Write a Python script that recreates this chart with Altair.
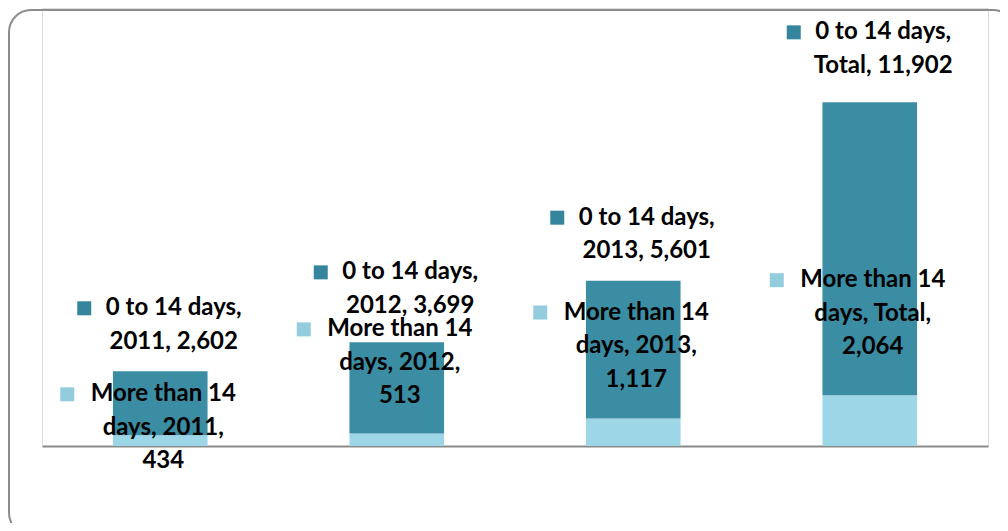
import altair as alt
import pandas as pd

# ---- data ----
categories = ["2011", "2012", "2013", "Total"]
short_stay = [2602, 3699, 5601, 11902]      # "0 to 14 days"
long_stay = [434, 513, 1117, 2064]          # "More than 14 days"
series = ["0 to 14 days", "More than 14 days"]

# ---- layout / style constants ----
DARK = "#3B8DA4"
LIGHT = "#9DD6E7"
DARK_KEY = "#35869C"
LIGHT_KEY = "#93CCDD"
W, H = 946, 438
YMAX = 17800
PPU = H / YMAX  # pixels per unit
FONT = "Lato"
FS = 24
LH = 33.5
# label nudges: first text line position (pixels) relative to the top of its segment
dark_nudge = [-63, -70, -63, -70]
light_nudge = [-41, -104, -106, -115]

rows = []
for c, s, l in zip(categories, short_stay, long_stay):
    rows.append({"cat": c, "series": series[1], "value": l, "ord": 0})
    rows.append({"cat": c, "series": series[0], "value": s, "ord": 1})
bars_df = pd.DataFrame(rows)

def fmt(v):
    return f"{v:,}"

dark_lab = pd.DataFrame({
    "cat": categories,
    "text": [f"0 to 14 days,\n{c}, {fmt(s)}" for c, s in zip(categories, short_stay)],
    "y": [s + l - n / PPU for s, l, n in zip(short_stay, long_stay, dark_nudge)],
})
light_lab = pd.DataFrame({
    "cat": categories,
    "text": [f"More than 14\ndays, {c},\n{fmt(l)}" for c, l in zip(categories, long_stay)],
    "y": [l - n / PPU for l, n in zip(long_stay, light_nudge)],
})

xenc = alt.X("cat:N", sort=categories,
             scale=alt.Scale(paddingInner=0.6, paddingOuter=0.3),
             axis=alt.Axis(title=None, labels=False, ticks=False, grid=False,
                           domainColor="#8a8a8a", domainWidth=2))
yscale = alt.Scale(domain=[0, YMAX], nice=False, zero=True)

border = alt.Chart(pd.DataFrame({"a": [0]})).mark_rect(
    cornerRadius=22, fill="white", fillOpacity=0, stroke="#8c8c8c", strokeWidth=2
).encode(x=alt.value(-33), x2=alt.value(973), y=alt.value(2), y2=alt.value(527))

bars = alt.Chart(bars_df).mark_bar().encode(
    x=xenc,
    y=alt.Y("value:Q", stack="zero", scale=yscale, axis=None),
    color=alt.Color("series:N", scale=alt.Scale(domain=series, range=[DARK, LIGHT]), legend=None),
    order=alt.Order("ord:Q"),
)

text_common = dict(font=FONT, fontWeight="bold", fontSize=FS, lineHeight=LH,
                   lineBreak="\n", align="center", baseline="middle", color="#000000")

dark_text = alt.Chart(dark_lab).mark_text(dx=13.5, **text_common).encode(
    x=alt.X("cat:N", sort=categories), y=alt.Y("y:Q", scale=yscale), text="text:N")
dark_key = alt.Chart(dark_lab).mark_square(
    size=196, opacity=1, color=DARK_KEY, xOffset=-76
).encode(x=alt.X("cat:N", sort=categories), y=alt.Y("y:Q", scale=yscale))

light_text = alt.Chart(light_lab).mark_text(dx=3, **text_common).encode(
    x=alt.X("cat:N", sort=categories), y=alt.Y("y:Q", scale=yscale), text="text:N")
light_key = alt.Chart(light_lab).mark_square(
    size=196, opacity=1, color=LIGHT_KEY, xOffset=-93
).encode(x=alt.X("cat:N", sort=categories), y=alt.Y("y:Q", scale=yscale))

chart = alt.layer(border, bars, dark_text, dark_key, light_text, light_key).properties(
    width=W, height=H,
    autosize=alt.AutoSizeParams(type="none"),
    padding={"left": 34, "top": 0, "right": 12, "bottom": 77},
).configure_view(stroke=None).configure(background="white")

chart.save("out.html", embed_options={"renderer": "svg", "actions": False})
